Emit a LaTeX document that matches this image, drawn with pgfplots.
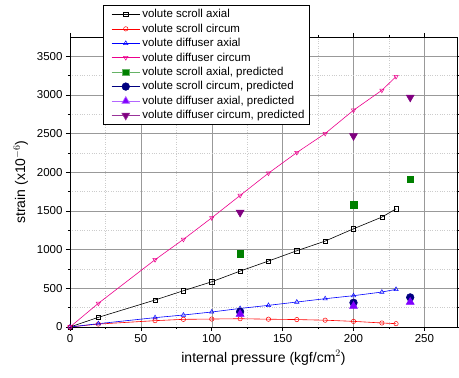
\documentclass[border=0pt]{standalone}
\usepackage{pgfplots}
\pgfplotsset{compat=1.18}
\usepackage{fontspec}
\setmainfont{Liberation Sans}
\definecolor{pgreen}{RGB}{0,128,0}
\definecolor{pnavy}{RGB}{0,0,128}
\definecolor{pviolet}{RGB}{128,0,255}
\definecolor{ppurple}{RGB}{128,0,128}
\begin{document}
\begin{tikzpicture}
\begin{axis}[
  name=ax, at={(0,0)}, anchor=south west,
  scale only axis, width=387pt, height=290pt,
  xmin=0, xmax=273, ymin=0, ymax=3750,
  xtick={0,50,...,250}, ytick={0,500,...,3500},
  minor x tick num=1, minor y tick num=1,
  grid=both,
  major grid style={gray!80, line width=0.5pt},
  minor grid style={gray!40, dotted, line width=0.5pt},
  tick align=outside,
  tick style={black, line width=0.6pt},
  major tick length=4pt, minor tick length=2pt,
  axis line style={line width=0.9pt},
  /pgf/number format/assume math mode=true,
  /pgf/number format/1000 sep={},
  ticklabel style={font=\fontsize{11.5}{13}\selectfont},
  label style={font=\fontsize{14}{16}\selectfont},
  xlabel={internal pressure (kgf/cm$^{2}$)},
  ylabel={strain (x10$^{-6}$)},
  xlabel style={yshift=-1pt},
  ylabel style={yshift=2pt},
  legend cell align=left,
  legend image code/.code={\path (-0.17cm,0cm); \draw[mark repeat=2,mark phase=2,#1] plot coordinates {(0cm,0cm) (0.5cm,0cm) (1.0cm,0cm)};},
  legend style={at={(0.0853,1.110)}, anchor=north west,
    font=\fontsize{11.5}{12.5}\selectfont, draw=black, line width=0.8pt,
    row sep=0.6pt, inner sep=2pt, inner xsep=3pt, fill=white},
  every axis plot/.append style={line width=0.6pt},
]
\addplot[black, mark=square, mark size=2.1pt, mark options={fill=white, line width=0.5pt}] coordinates {
(0,0) (20,125) (60,349) (80,469) (100,585) (120,723) (140,853) (160,986) (180,1111) (200,1270) (220,1421) (230,1528)};
\addlegendentry{volute scroll axial}
\addplot[red, mark=o, mark size=2.2pt, mark options={fill=white, line width=0.5pt}] coordinates {
(0,0) (20,38) (60,82) (80,99) (100,103) (120,107) (140,101) (160,96) (180,88) (200,73) (220,52) (230,43)};
\addlegendentry{volute scroll circum}
\addplot[blue, mark=triangle, mark size=2.5pt, mark options={fill=white, line width=0.5pt}] coordinates {
(0,0) (20,43) (60,121) (80,155) (100,194) (120,240) (140,280) (160,323) (180,366) (200,405) (220,452) (230,487)};
\addlegendentry{volute diffuser axial}
\addplot[magenta, mark=triangle, mark size=2.5pt, mark options={fill=white, rotate=180, line width=0.5pt}] coordinates {
(0,0) (20,306) (60,870) (80,1133) (100,1412) (120,1701) (140,1989) (160,2256) (180,2502) (200,2803) (220,3061) (230,3238)};
\addlegendentry{volute diffuser circum}
\addplot[pgreen, only marks, mark=square*, mark size=3.3pt, legend image post style={sharp plot, draw=pgreen!60}] coordinates {
(120,943) (200,1580) (240,1912)};
\addlegendentry{volute scroll axial, predicted}
\addplot[pnavy, only marks, mark=*, mark size=3.8pt, legend image post style={sharp plot}] coordinates {
(120,198) (200,314) (240,383)};
\addlegendentry{volute scroll circum, predicted}
\addplot[pviolet, only marks, mark=triangle*, mark size=4.5pt, legend image post style={sharp plot, draw=pviolet!60}] coordinates {
(120,168) (200,271) (240,323)};
\addlegendentry{volute diffuser axial, predicted}
\addplot[ppurple, only marks, mark=triangle*, mark size=4.5pt, mark options={rotate=180}, legend image post style={sharp plot, draw=ppurple!80}] coordinates {
(120,1481) (200,2471) (240,2970)};
\addlegendentry{volute diffuser circum, predicted}
\end{axis}
\pgfresetboundingbox
\path (-70pt,-51pt) rectangle (389pt,327pt);
\end{tikzpicture}
\end{document}
